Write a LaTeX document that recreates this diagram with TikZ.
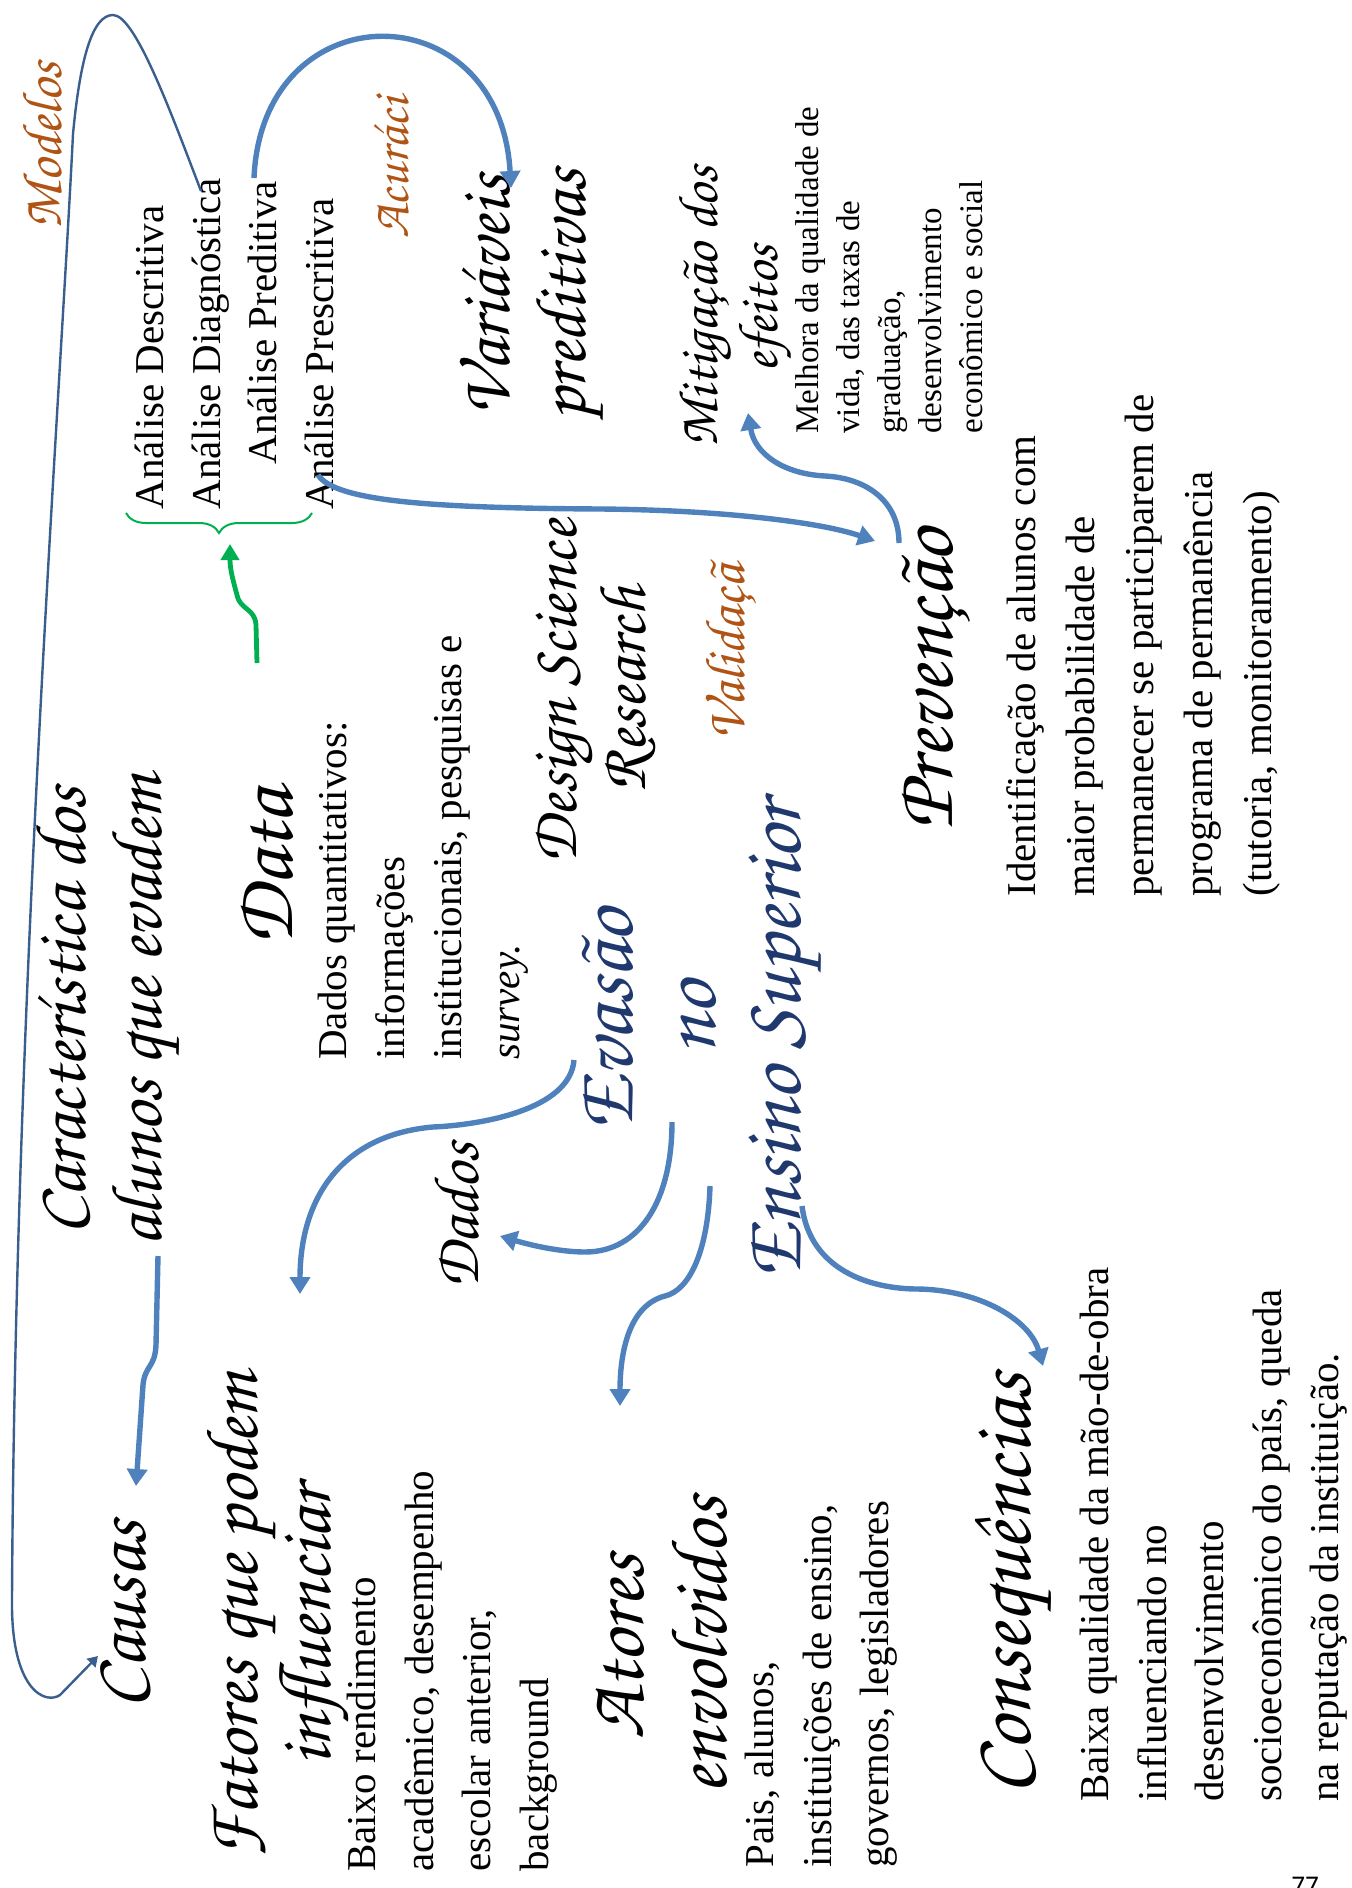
\documentclass[tikz,border=0pt]{standalone}
\usepackage[T1]{fontenc}
\usepackage{fontspec}
\setmainfont{Liberation Serif}
\newfontfamily\pagefont{Carlito}
\usetikzlibrary{arrows.meta,decorations.pathreplacing}

\definecolor{scrbrown}{RGB}{176,84,22}
\definecolor{scrnavy}{RGB}{31,56,110}
\definecolor{arrblue}{RGB}{79,129,189}
\definecolor{linblue}{RGB}{58,95,143}
\definecolor{brgreen}{RGB}{0,176,80}

\newcommand\hand[1]{\fontencoding{T1}\fontfamily{pzc}\fontseries{mb}\fontshape{it}\fontsize{#1}{#1}\selectfont}

\tikzset{
  hw/.style={rotate=90, inner sep=0pt, anchor=base, font=\hand{#1}},
  body/.style={rotate=90, inner sep=0pt, anchor=north west, align=left,
    font=\fontsize{20.5}{28.75}\selectfont},
  lbl/.style={rotate=90, inner sep=0pt, anchor=base west,
    font=\fontsize{20.5}{28.75}\selectfont},
  link/.style={arrblue, line width=2.7pt, -{Triangle[length=8.5pt,width=10pt]}},
}

\begin{document}
\begin{tikzpicture}[x=0.5pt, y=-0.5pt]
  \useasboundingbox (0,0) rectangle (1351,1888);

  % tipos de analise
  \node[lbl] (desc) at (163,510) {Análise Descritiva};
  \node[lbl] (diag) at (220,510) {Análise Diagnóstica};
  \node[lbl] (pred) at (276,465) {Análise Preditiva};
  \node[lbl] (presc) at (333,510) {Análise Prescritiva};
  \draw[brgreen, line width=1pt, decorate, decoration={brace, amplitude=10pt}]
    (312,513) -- (126,513);

  % titulos manuscritos
  \node[hw=28, text=scrbrown] (modelos) at (61,146) {Modelos};
  \node[hw=26, text=scrbrown] (acur) at (408,168) {Acuráci};
  \node[hw=36] (var1) at (509,296) {Variáveis};
  \node[hw=36] (var2) at (585,295) {preditivas};
  \node[hw=28] (mitig1) at (717,307) {Mitigação dos};
  \node[hw=28] (mitig2) at (777,309) {efeitos};
  \node[hw=36] (carac1) at (85,1011) {Característica dos};
  \node[hw=36] (carac2) at (161,1011) {alunos que evadem};
  \node[hw=42] (data) at (292,867) {Data};
  \node[hw=33] (dsr1) at (576,692) {Design Science};
  \node[hw=33] (dsr2) at (645,690) {Research};
  \node[hw=28, text=scrbrown] (valid) at (744,653) {Validaçã};
  \node[hw=42, text=scrnavy] (evasao) at (632,1020) {Evasão};
  \node[hw=42, text=scrnavy] (no) at (715,1018) {no};
  \node[hw=42, text=scrnavy] (ensino) at (800,1040) {Ensino Superior};
  \node[hw=42] (prev) at (952,680) {Prevenção};
  \node[hw=38] (causas) at (145,1615) {Causas};
  \node[hw=37] (fat1) at (257,1616) {Fatores que podem};
  \node[hw=37] (fat2) at (330,1626) {influenciar};
  \node[hw=32] (dados) at (478,1216) {Dados};
  \node[hw=40] (atores1) at (643,1647) {Atores};
  \node[hw=40] (atores2) at (726,1646) {envolvidos};
  \node[hw=42] (conseq) at (1030,1584) {Consequências};

  % textos
  \node[body, font=\fontsize{16.5}{20.5}\selectfont] (melhora) at (795,434)
    {Melhora da qualidade de\\vida, das taxas de\\graduação,\\desenvolvimento\\econômico e social};
  \node[body] (dadosq) at (318,1060)
    {Dados quantitativos:\\informações\\institucionais, pesquisas e\\\textit{survey.}};
  \node[body, font=\fontsize{20.5}{29.5}\selectfont] (ident) at (1006,897)
    {Identificação de alunos com\\maior probabilidade de\\permanecer se participarem de\\programa de permanência\\(tutoria, monitoramento)};
  \node[body] (baixo) at (347,1872)
    {Baixo rendimento\\acadêmico, desempenho\\escolar anterior,\\background};
  \node[body] (pais) at (745,1868)
    {Pais, alunos,\\instituições de ensino,\\governos, legisladores};
  \node[body] (baixa) at (1080,1802)
    {Baixa qualidade da mão-de-obra\\influenciando no\\desenvolvimento\\socioeconômico do país, queda\\na reputação da instituição.};
  \node[font=\pagefont\fontsize{13.5}{14}\selectfont, inner sep=0pt, anchor=north] (pag) at (1305,1877) {77};

  % pontas livres
  \coordinate (diagA) at (201,191);
  \coordinate (causasA) at (98,1656);
  \coordinate (predA) at (254,178);
  \coordinate (varA) at (511,188);
  \coordinate (prescA) at (318,475);
  \coordinate (prevA) at (875,541);
  \coordinate (prevB) at (899,543);
  \coordinate (mitigA) at (748,413);
  \coordinate (dataA) at (257,663);
  \coordinate (braceA) at (230,544);
  \coordinate (carA) at (158,1256);
  \coordinate (causasB) at (136,1486);
  \coordinate (evaA) at (574,1060);
  \coordinate (fatA) at (300,1294);
  \coordinate (evaB) at (672,1122);
  \coordinate (dadosA) at (500,1236);
  \coordinate (evaC) at (710,1186);
  \coordinate (atoresA) at (620,1406);
  \coordinate (ensA) at (802,1206);
  \coordinate (consA) at (1043,1366);

  % conectores
  \draw[linblue, line width=1.2pt, -{Triangle[length=5pt,width=6pt]}]
    (diagA) .. controls (170,110) and (135,15) .. (113,15)
    .. controls (92,15) and (80,60) .. (73,134)
    .. controls (60,400) and (15,1000) .. (12,1600)
    .. controls (11,1690) and (45,1705) .. (60,1695) -- (causasA);
  \draw[link] (predA) .. controls (262,-10) and (500,-10) .. (varA);
  \draw[link] (prescA) .. controls (335,500) and (420,508) .. (600,509)
    .. controls (720,510) and (820,522) .. (prevA);
  \draw[link] (prevB) .. controls (899,500) and (865,478) .. (825,476)
    .. controls (785,474) and (755,455) .. (mitigA);
  \draw[brgreen, line width=2.4pt, -{Triangle[length=8pt,width=9pt]}]
    (dataA) -- (256,625) .. controls (255,608) and (240,610) .. (237,595)
    .. controls (233,580) and (230,570) .. (braceA);
  \draw[link] (carA) -- (156,1345) .. controls (155,1368) and (145,1365) .. (143,1385) -- (causasB);
  \draw[link] (evaA) .. controls (570,1110) and (480,1125) .. (433,1127)
    .. controls (340,1135) and (300,1200) .. (fatA);
  \draw[link] (evaB) .. controls (672,1200) and (640,1252) .. (585,1252)
    .. controls (560,1252) and (530,1245) .. (dadosA);
  \draw[link] (evaC) .. controls (708,1250) and (690,1290) .. (665,1296)
    .. controls (630,1305) and (620,1350) .. (atoresA);
  \draw[link] (ensA) .. controls (810,1270) and (870,1289) .. (918,1289)
    .. controls (980,1290) and (1030,1320) .. (consA);
\end{tikzpicture}
\end{document}
